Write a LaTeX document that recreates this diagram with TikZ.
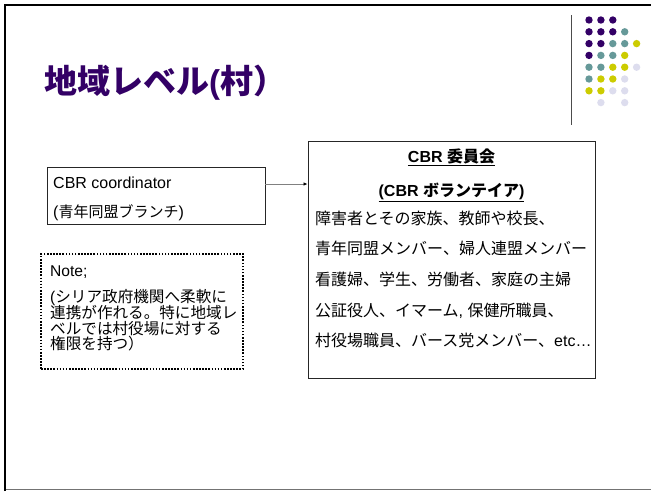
\documentclass[tikz,border=0pt]{standalone}
\usepackage{fontspec}
\setmainfont{Liberation Sans}
\newfontfamily\jpfont{Noto Sans CJK JP}
\newcommand\J[1]{{\jpfont #1}}
\usetikzlibrary{arrows.meta}
\definecolor{dpurple}{HTML}{330066}
\definecolor{dteal}{HTML}{669999}
\definecolor{dyellow}{HTML}{CCCC00}
\definecolor{dlav}{HTML}{DDDDEE}
\tikzset{
  frameline/.style={line width=2.6pt,black},
  boxshape/.style={draw=black!85,line width=0.9pt,inner sep=0pt},
  notebox/.style={draw=black,line width=2pt,dash pattern=on 1.6pt off 1.5pt,inner sep=0pt},
  txt/.style={inner sep=0pt,anchor=base west,font=\fontsize{16}{18}\selectfont},
  ntxt/.style={inner sep=0pt,anchor=base west,font=\fontsize{15.6}{18}\selectfont},
  ctxt/.style={inner sep=0pt,anchor=base,font=\fontsize{16}{18}\selectfont\bfseries},
  titletxt/.style={inner sep=0pt,anchor=base west,text=dpurple,font=\fontsize{33}{38}\selectfont\bfseries},
  conn/.style={draw=black!50,line width=0.9pt,-{Latex[length=4pt,width=3.5pt,black]}},
  dot/.style={circle,inner sep=0pt,minimum size=7.4pt},
}
\begin{document}
\begin{tikzpicture}[x=1pt,y=-1pt]
\useasboundingbox (0,0) rectangle (651,491);
\fill[white] (0,0) rectangle (651,491);
% slide frame
\draw[black!55,line width=1.3pt] (5,489.5) -- (651,489.5);
\draw[frameline] (5,491) -- (5,5) -- (651,5);
\draw[black!70,line width=1pt] (571.5,15) -- (571.5,125);
% dots
\foreach \c/\r/\col in {0/0/dpurple,1/0/dpurple,2/0/dpurple,
  0/1/dpurple,1/1/dpurple,2/1/dpurple,3/1/dteal,
  0/2/dpurple,1/2/dpurple,2/2/dteal,3/2/dteal,4/2/dyellow,
  0/3/dpurple,1/3/dteal,2/3/dteal,3/3/dyellow,
  0/4/dteal,1/4/dteal,2/4/dyellow,3/4/dyellow,4/4/dlav,
  0/5/dteal,1/5/dyellow,2/5/dyellow,3/5/dlav,
  0/6/dyellow,1/6/dyellow,2/6/dlav,3/6/dlav,
  1/7/dlav,3/7/dlav}
  \node[dot,fill=\col] (d\c\r) at ({589+11.9*\c},{20+11.8*\r}) {};
% title
\node[titletxt] (title) at (44,93.5) {\J{地域レベル}(\J{村）}};
% left box
\node[boxshape,minimum width=218pt,minimum height=57pt] (lbox) at (156,195.5) {};
\node[txt] (l1) at (53,188) {CBR coordinator};
\node[txt] (l2) at (53,217) {(\J{\fontsize{15}{18}\selectfont 青年同盟ブランチ})};
% right box
\node[boxshape,minimum width=287pt,minimum height=237pt] (rbox) at (451.5,259.5) {};
\node[ctxt] (r1) at (451.5,162.5) {\underline{CBR \J{委員会}}};
\node[ctxt] (r2) at (451.5,196) {\underline{(CBR \J{ボランテイア})}};
\node[txt] (r3) at (315,224) {\J{障害者とその家族、教師や校長、}};
\node[txt] (r4) at (315,254) {\J{青年同盟メンバー、婦人連盟メンバー}};
\node[txt] (r5) at (315,285) {\J{看護婦、学生、労働者、家庭の主婦}};
\node[txt] (r6) at (315,316) {\J{公証役人、イマーム}, \J{保健所職員、}};
\node[txt] (r7) at (315,346) {\J{村役場職員、バース党メンバー、}etc…};
% connector
\draw[conn] ([yshift=11.5pt]lbox.east) -- ([yshift=11.5pt]lbox.east -| rbox.west);
% note box
\node[notebox,minimum width=202pt,minimum height=115pt] (note) at (142,311.5) {};
\node[ntxt] (n1) at (50,276) {Note;};
\node[ntxt] (n2) at (50,302) {(\J{シリア政府機関へ柔軟に}};
\node[ntxt] (n3) at (50,318) {\J{連携が作れる。特に地域レ}};
\node[ntxt] (n4) at (50,334) {\J{ベルでは村役場に対する}};
\node[ntxt] (n5) at (50,349.5) {\J{権限を持つ）}};
\end{tikzpicture}
\end{document}
